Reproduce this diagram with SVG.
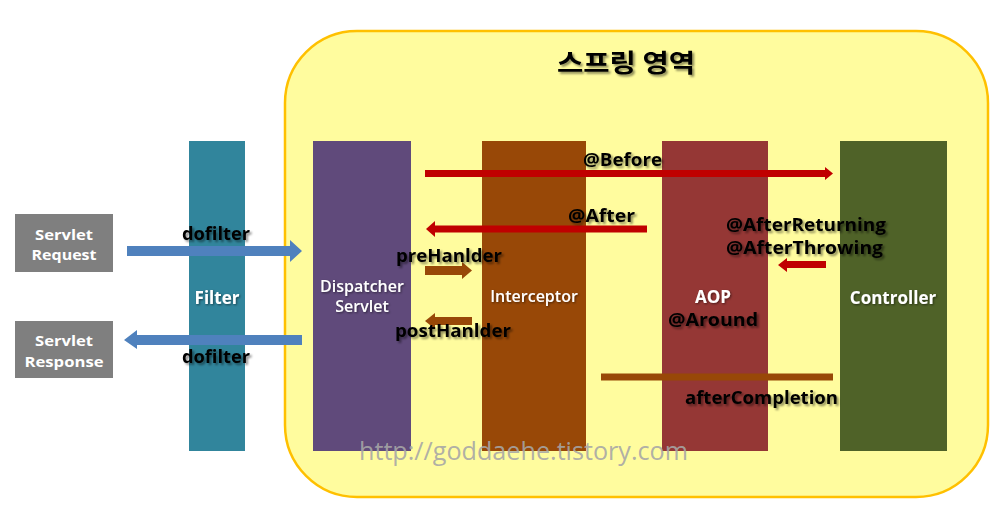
<svg xmlns="http://www.w3.org/2000/svg" width="1003" height="509" viewBox="0 0 1003 509">
<defs>
<filter id="sh" x="-10%" y="-30%" width="130%" height="180%">
<feDropShadow dx="2" dy="2" stdDeviation="1.2" flood-color="#000" flood-opacity="0.45"/>
</filter>
<filter id="shw" x="-10%" y="-30%" width="130%" height="180%">
<feDropShadow dx="1" dy="1" stdDeviation="0.8" flood-color="#000" flood-opacity="0.5"/>
</filter>
</defs>
<style>
.lbl{font-family:"Open Sans","Liberation Sans","Noto Sans CJK KR",sans-serif;font-weight:bold;font-size:18px;fill:#000;filter:url(#sh)}
.wb{font-family:"Open Sans","Liberation Sans",sans-serif;font-weight:bold;font-size:17px;fill:#fff;text-anchor:middle;filter:url(#shw)}
.wr{font-family:"Open Sans","Liberation Sans",sans-serif;font-weight:600;font-size:16px;fill:#fff;text-anchor:middle;filter:url(#shw)}
.gw{font-family:"Open Sans","Liberation Sans",sans-serif;font-weight:bold;font-size:15px;fill:#fff;text-anchor:middle}
.red{fill:#C00000}
.brn{fill:#984807}
.blu{fill:#4F81BD}
</style>
<rect width="1003" height="509" fill="#fff"/>
<g id="spring-area">
<rect x="285" y="31" width="703" height="466" rx="72" ry="72" fill="#FFFC9E" stroke="#FFC000" stroke-width="2.5"/>
<text x="626" y="72" text-anchor="middle" textLength="138" lengthAdjust="spacingAndGlyphs" style="font-family:'Noto Sans CJK KR',sans-serif;font-weight:bold;font-size:25px;fill:#000;filter:url(#sh)">스프링 영역</text>
</g>
<g id="servlet-request">
<rect x="15" y="214" width="98" height="58" fill="#7F7F7F"/>
<text class="gw" x="64" y="240" textLength="58" lengthAdjust="spacingAndGlyphs">Servlet</text>
<text class="gw" x="64" y="260" textLength="65" lengthAdjust="spacingAndGlyphs">Request</text>
</g>
<g id="servlet-response">
<rect x="15" y="321" width="98" height="57" fill="#7F7F7F"/>
<text class="gw" x="64" y="346" textLength="58" lengthAdjust="spacingAndGlyphs">Servlet</text>
<text class="gw" x="64" y="367" textLength="79" lengthAdjust="spacingAndGlyphs">Response</text>
</g>
<g id="filter">
<rect x="189" y="141" width="56" height="310" fill="#31859C"/>
<text class="wb" x="217" y="304">Filter</text>
</g>
<g id="dispatcher-servlet">
<rect x="313" y="141" width="98" height="310" fill="#604A7B"/>
<text class="wr" x="362" y="292">Dispatcher</text>
<text class="wr" x="362" y="312">Servlet</text>
</g>
<g id="interceptor">
<rect x="482" y="141" width="104" height="310" fill="#984807"/>
<text class="wr" x="534" y="302">Interceptor</text>
</g>
<g id="aop">
<rect x="662" y="141" width="106" height="310" fill="#953735"/>
<text class="wb" x="713" y="303">AOP</text>
</g>
<g id="controller">
<rect x="840" y="141" width="107" height="310" fill="#4F6228"/>
<text class="wb" x="893" y="304">Controller</text>
</g>
<g id="connectors">
<polygon class="blu" points="127,246 290,246 290,240 302,251 290,262 290,256 127,256"/>
<polygon class="blu" points="302,335 137,335 137,330 124,340 137,349 137,345 302,345"/>
<polygon class="red" points="425,170 825,170 825,167 833,173.5 825,180 825,177 425,177"/>
<polygon class="red" points="647,225.5 435,225.5 435,221 426,229 435,237 435,232.5 647,232.5"/>
<polygon class="brn" points="425,266 462,266 462,262 472,270.5 462,279 462,275 425,275"/>
<polygon class="brn" points="472,317 435,317 435,313 425,321 435,329 435,325 472,325"/>
<polygon class="red" points="826,261 787,261 787,258 778,265 787,272 787,268 826,268"/>
<polygon class="brn" points="833,373.5 601,373.5 601,380.5 833,380.5"/>
</g>
<g id="labels">
<text class="lbl" x="182" y="240" textLength="68" lengthAdjust="spacingAndGlyphs">dofilter</text>
<text class="lbl" x="182" y="363" textLength="68" lengthAdjust="spacingAndGlyphs">dofilter</text>
<text class="lbl" x="583" y="166" textLength="79" lengthAdjust="spacingAndGlyphs">@Before</text>
<text class="lbl" x="568" y="222" textLength="67" lengthAdjust="spacingAndGlyphs">@After</text>
<text class="lbl" x="396" y="262" textLength="106" lengthAdjust="spacingAndGlyphs">preHanlder</text>
<text class="lbl" x="395" y="337" textLength="116" lengthAdjust="spacingAndGlyphs">postHanlder</text>
<text class="lbl" x="726" y="231" textLength="160" lengthAdjust="spacingAndGlyphs">@AfterReturning</text>
<text class="lbl" x="726" y="254" textLength="157" lengthAdjust="spacingAndGlyphs">@AfterThrowing</text>
<text class="lbl" x="668" y="326" textLength="90" lengthAdjust="spacingAndGlyphs">@Around</text>
<text class="lbl" x="685" y="404" textLength="153" lengthAdjust="spacingAndGlyphs">afterCompletion</text>
</g>
<text x="359" y="460" textLength="329" lengthAdjust="spacingAndGlyphs" style="font-family:'Open Sans','Liberation Sans',sans-serif;font-size:25px;fill:#A6A6A6;fill-opacity:0.9">http://goddaehe.tistory.com</text>
</svg>
